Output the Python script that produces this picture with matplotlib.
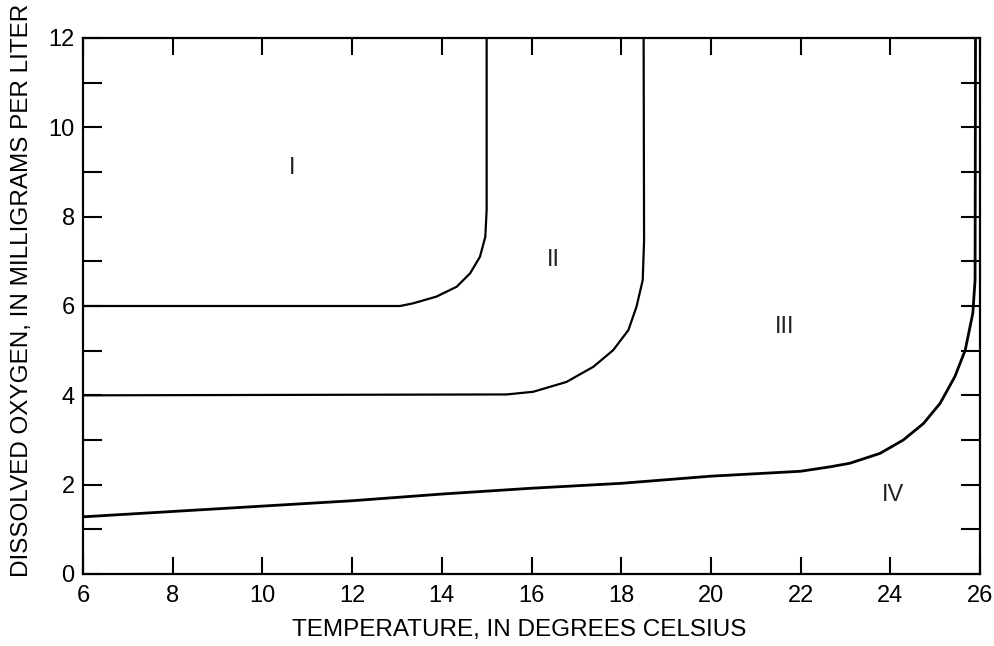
import matplotlib
matplotlib.use("Agg")
import matplotlib.pyplot as plt
from matplotlib.ticker import MultipleLocator

plt.rcParams['font.family'] = ['Liberation Sans', 'DejaVu Sans']

# Boundary curves (temperature °C, dissolved oxygen mg/L)
curve1_x = [6.0, 13.07, 13.36, 13.88, 14.33, 14.63, 14.85, 14.97, 15.0, 15.0]
curve1_y = [6.0, 6.0, 6.06, 6.21, 6.43, 6.73, 7.10, 7.55, 8.15, 12.0]

curve2_x = [6.0, 15.45, 16.04, 16.78, 17.38, 17.82, 18.16, 18.34, 18.48, 18.51, 18.5]
curve2_y = [4.0, 4.02, 4.08, 4.30, 4.64, 5.01, 5.46, 5.98, 6.58, 7.48, 12.0]

curve3_x = [6.0, 10.0, 12.0, 14.0, 16.0, 18.0, 20.0, 22.0, 22.66, 23.10, 23.77,
            24.29, 24.74, 25.11, 25.44, 25.67, 25.84, 25.89, 25.9]
curve3_y = [1.28, 1.52, 1.64, 1.79, 1.92, 2.03, 2.19, 2.30, 2.40, 2.48, 2.70,
            3.00, 3.37, 3.82, 4.42, 5.01, 5.84, 6.58, 12.0]

region_labels = ["I", "II", "III", "IV"]
region_x = [10.66, 16.48, 21.65, 24.06]
region_y = [9.08, 7.03, 5.53, 1.77]

x_ticks = [6, 8, 10, 12, 14, 16, 18, 20, 22, 24, 26]
y_ticks = [0, 2, 4, 6, 8, 10, 12]

fig = plt.figure(figsize=(9.95, 6.46), dpi=100)
ax = fig.add_axes([83 / 995, 1 - 574 / 646, (980 - 83) / 995, (574 - 38) / 646])

lw = 1.6
for cx, cy, w in [(curve1_x, curve1_y, lw), (curve2_x, curve2_y, lw),
                  (curve3_x, curve3_y, lw + 0.4)]:
    ax.plot(cx, cy, color='black', lw=w, solid_capstyle='butt',
            solid_joinstyle='round')

for lab, xx, yy in zip(region_labels, region_x, region_y):
    ax.text(xx, yy, lab, ha='center', va='center', fontsize=17, color='#222222')

ax.set_xlim(6, 26)
ax.set_ylim(0, 12)
ax.set_xticks(x_ticks)
ax.set_yticks(y_ticks)
ax.yaxis.set_minor_locator(MultipleLocator(1))
ax.tick_params(which='both', direction='in', top=True, right=True,
               width=1.5, color='black')
ax.tick_params(axis='x', which='major', length=12, labelsize=17, pad=8)
ax.tick_params(axis='y', which='major', length=14, labelsize=17, pad=6)
ax.tick_params(axis='y', which='minor', length=14)
for s in ax.spines.values():
    s.set_linewidth(1.6)

ax.set_xlabel("TEMPERATURE, IN DEGREES CELSIUS", fontsize=17.5)
ax.xaxis.set_label_coords(0.486, -0.084)
fig.text(22 / 995, 1 - 290 / 646, "DISSOLVED OXYGEN, IN MILLIGRAMS PER LITER",
         rotation=90, ha='center', va='center', fontsize=17.5)

fig.savefig("out.png", dpi=100)
